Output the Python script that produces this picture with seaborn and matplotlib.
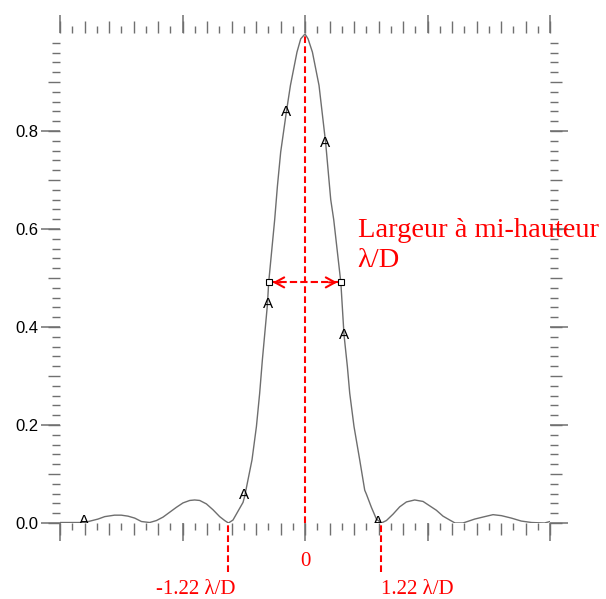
import numpy as np
import pandas as pd
import matplotlib
matplotlib.use("Agg")
import matplotlib.pyplot as plt
import seaborn as sns
from matplotlib.ticker import FixedLocator, NullFormatter

# ---- data ----
x_vals = [-4.0, -3.87, -3.60, -3.38, -3.27, -3.11, -3.0, -2.89, -2.78, -2.67,
          -2.536, -2.426, -2.318, -2.209, -2.10, -1.992, -1.882, -1.801, -1.719,
          -1.61, -1.502, -1.393, -1.311, -1.25, -1.176, -1.094, -1.012, -0.984,
          -0.865, -0.793, -0.74, -0.696, -0.614, -0.593, -0.495, -0.45, -0.397,
          -0.304, -0.238, -0.131, -0.07, 0.0, 0.05, 0.121, 0.229, 0.338, 0.42,
          0.469, 0.585, 0.637, 0.692, 0.73, 0.80, 0.893, 0.975, 1.002, 1.084,
          1.166, 1.247, 1.329, 1.437, 1.546, 1.656, 1.791, 1.927, 2.036, 2.145,
          2.253, 2.364, 2.45, 2.58, 2.77, 2.934, 3.07, 3.207, 3.37, 3.53, 3.70,
          3.91, 4.0]
intensity = [0.001, 0.001, 0.001, 0.008, 0.013, 0.016, 0.016, 0.014, 0.010, 0.003,
             0.001, 0.005, 0.012, 0.022, 0.032, 0.041, 0.046, 0.047, 0.046,
             0.039, 0.027, 0.013, 0.005, 0.0, 0.006, 0.024, 0.042, 0.055,
             0.129, 0.197, 0.265, 0.333, 0.445, 0.491, 0.619, 0.688, 0.757,
             0.839, 0.893, 0.961, 0.988, 0.998, 0.988, 0.961, 0.893, 0.775, 0.660,
             0.619, 0.491, 0.384, 0.319, 0.265, 0.197, 0.129, 0.067, 0.059, 0.032,
             0.008, 0.0, 0.005, 0.018, 0.033, 0.043, 0.047, 0.044, 0.035, 0.026,
             0.014, 0.006, 0.0, 0.0, 0.008, 0.013, 0.017, 0.015, 0.010, 0.004, 0.001,
             0.0, 0.003]

marker_x = [-3.61, -0.996, -0.604, -0.304, 0.32, 0.632, 1.19]
marker_y = [0.004, 0.058, 0.446, 0.838, 0.775, 0.384, 0.002]

fwhm_x = [-0.593, 0.593]
fwhm_y = 0.491
zero_x = [-1.25, 1.247]
zero_labels = ["-1.22 \u03bb/D", "1.22 \u03bb/D"]
zero_label_x = [-1.776, 1.837]
y_major = [0.0, 0.2, 0.4, 0.6, 0.8]
y_tick_labels = ["0.0", "0.2", "0.4", "0.6", "0.8"]
x_major = [-4, -2, 0, 2, 4]
annot_line1 = "Largeur \u00e0 mi-hauteur"
annot_line2 = "\u03bb/D"

# ---- style ----
sns.set_theme(style="white")
plt.rcParams["font.family"] = ["Liberation Sans", "DejaVu Sans"]

fig = plt.figure(figsize=(6.06, 5.99), dpi=100)
ax = fig.add_axes([60 / 606, 1 - 523 / 599, 490 / 606, 490 / 599])

df = pd.DataFrame({"x": x_vals, "I": intensity})
sns.lineplot(data=df, x="x", y="I", ax=ax, color="#6e6e6e", lw=1.0,
             estimator=None, zorder=3)

ax.set_xlim(-4, 4)
ax.set_ylim(0, 1.0)
ax.set_xlabel("")
ax.set_ylabel("")
for s in ax.spines.values():
    s.set_visible(False)

tick_col = "#707070"
# medium / short ticks on main axes
ax.xaxis.set_major_locator(FixedLocator(np.round(np.arange(-4, 4.001, 0.4), 3)))
ax.xaxis.set_minor_locator(FixedLocator(np.round(np.arange(-3.8, 3.9, 0.4), 3)))
ax.yaxis.set_major_locator(FixedLocator(np.round(np.arange(0, 0.95, 0.1), 3)))
ax.yaxis.set_minor_locator(FixedLocator([v for v in np.round(np.arange(0.02, 0.99, 0.02), 3)
                                         if abs(v * 10 - round(v * 10)) > 1e-6]))
ax.xaxis.set_major_formatter(NullFormatter())
ax.yaxis.set_major_formatter(NullFormatter())
ax.tick_params(axis="x", which="major", direction="out", length=8.6, width=1.0,
               color=tick_col, bottom=True, top=True, labelbottom=False, labeltop=False)
ax.tick_params(axis="x", which="minor", direction="out", length=5.0, width=1.0,
               color=tick_col, bottom=True, top=True)
ax.tick_params(axis="y", which="major", direction="out", length=8.6, width=1.0,
               color=tick_col, left=True, right=True, labelleft=False, labelright=False)
ax.tick_params(axis="y", which="minor", direction="out", length=5.5, width=1.0,
               color=tick_col, left=True, right=True)

# long ticks via secondary axes
for loc in ["bottom", "top"]:
    sec = ax.secondary_xaxis(loc)
    sec.set_xticks(x_major)
    sec.xaxis.set_major_formatter(NullFormatter())
    sec.tick_params(axis="x", which="major", direction="out", length=13, width=1.1,
                    color=tick_col)
    sec.tick_params(axis="x", which="minor", length=0)
    for s in sec.spines.values():
        s.set_visible(False)

secl = ax.secondary_yaxis("left")
secl.set_yticks(y_major)
secl.set_yticklabels(y_tick_labels)
secl.tick_params(axis="y", which="major", direction="out", length=13.5, width=1.1,
                 color=tick_col, labelsize=12, labelcolor="black", pad=2)
secl.tick_params(axis="y", which="minor", length=0)
for s in secl.spines.values():
    s.set_visible(False)
secr = ax.secondary_yaxis("right")
secr.set_yticks(y_major)
secr.yaxis.set_major_formatter(NullFormatter())
secr.tick_params(axis="y", which="major", direction="out", length=13, width=1.1,
                 color=tick_col)
secr.tick_params(axis="y", which="minor", length=0)
for s in secr.spines.values():
    s.set_visible(False)

red = "#ff0000"
dash = (0, (3.2, 1.6))
peak = max(intensity)
ax.vlines(0, 0, peak, colors=red, linestyles=dash, lw=1.5, zorder=2)
ax.vlines(zero_x, -0.099, 0, colors=red, linestyles=dash, lw=1.5, clip_on=False, zorder=2)

# FWHM double arrow
ax.plot(fwhm_x, [fwhm_y, fwhm_y], color=red, lw=1.5, ls=(0, (3.5, 1.5)), zorder=4)
for xe, d in zip(fwhm_x, [1, -1]):
    ax.annotate("", xy=(xe, fwhm_y), xytext=(xe + d * 0.2, fwhm_y),
                arrowprops=dict(arrowstyle="->,head_length=0.55,head_width=0.3",
                                color=red, lw=1.5, shrinkA=0, shrinkB=3), zorder=4)
ax.plot(fwhm_x, [fwhm_y, fwhm_y], ls="none", marker="s", ms=4, mfc="white",
        mec="black", mew=0.8, zorder=5)

# "A" markers along the curve
for mx, my in zip(marker_x, marker_y):
    ax.text(mx, my, "A", ha="center", va="center", fontsize=11, color="black",
            family="Liberation Sans", clip_on=True, zorder=6)

serif = "Liberation Serif"
ax.text(0.86, 0.596, annot_line1, color=red, fontsize=20.5, family=serif,
        ha="left", va="center")
ax.text(0.86, 0.536, annot_line2, color=red, fontsize=20.5, family=serif,
        ha="left", va="center")
ax.text(0.0, -0.079, "0", color=red, fontsize=15, family=serif,
        ha="center", va="center", clip_on=False)
for lx, lab in zip(zero_label_x, zero_labels):
    ax.text(lx, -0.136, lab, color=red, fontsize=15, family=serif,
            ha="center", va="center", clip_on=False)

fig.savefig("out.png", dpi=100)
